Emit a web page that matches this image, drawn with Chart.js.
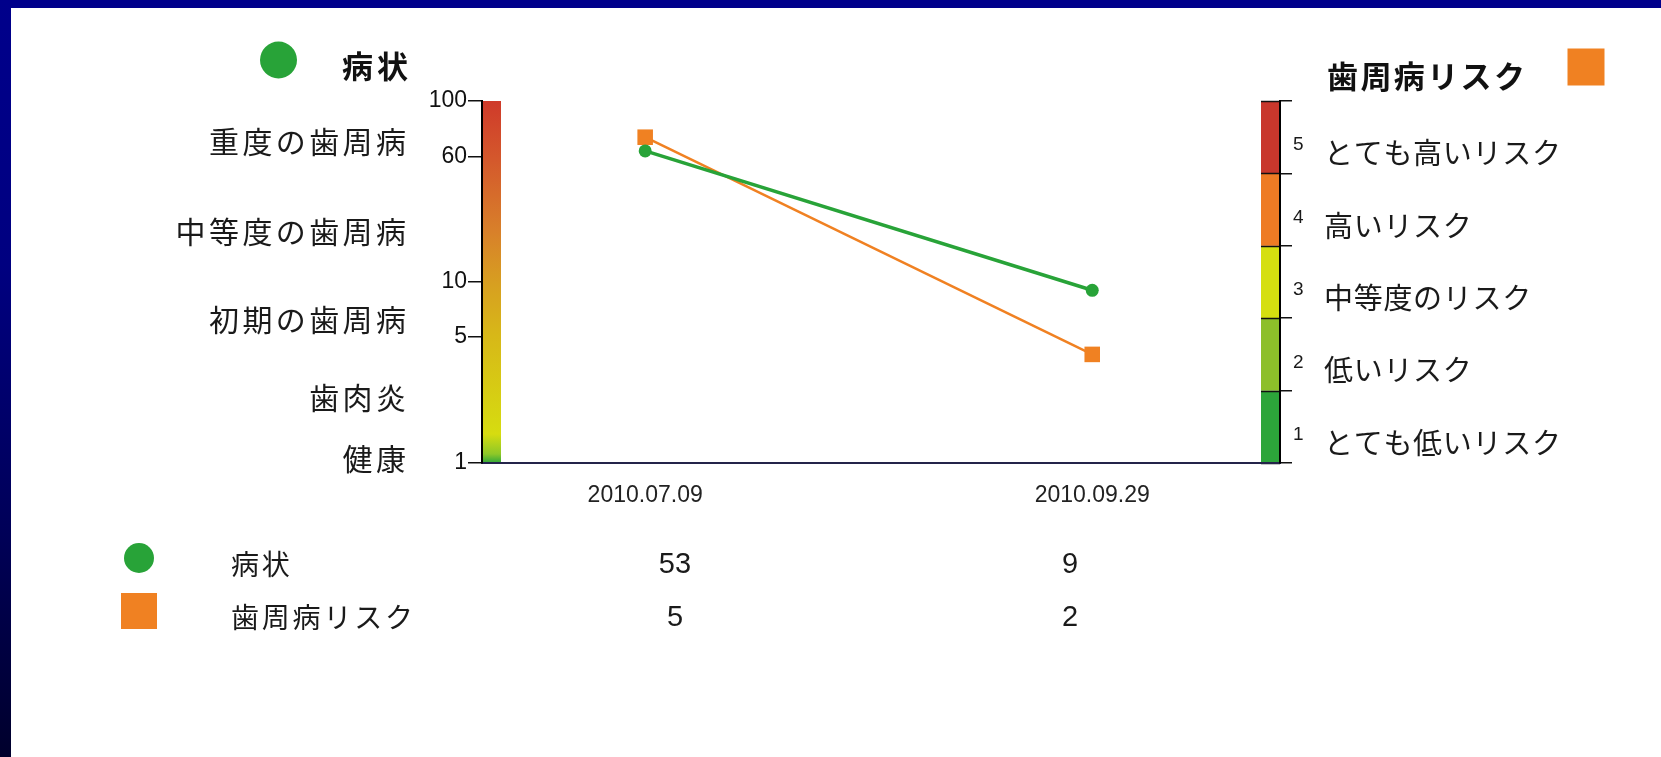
<!DOCTYPE html>
<html>
<head>
<meta charset="utf-8">
<script src="https://cdn.jsdelivr.net/npm/chart.js@4.4.1/dist/chart.umd.min.js"></script>
<style>
  html, body { margin: 0; padding: 0; background: #fff; overflow: hidden; }
  #wrap { position: relative; width: 1661px; height: 757px; }
  #wrap canvas { position: absolute; left: 0; top: 0; }
  #frameTop { position: absolute; left: 0; top: 0; width: 1661px; height: 8px; background: #00008b; }
  #frameLeft { position: absolute; left: 0; top: 0; width: 11px; height: 757px;
    background: linear-gradient(#00008b 0%, #000080 35%, #000058 70%, #00002c 100%); }
</style>
</head>
<body>
<div id="wrap">
  <canvas id="chart" width="1661" height="757"></canvas>
  <div id="frameTop"></div>
  <div id="frameLeft"></div>
</div>
<script>
// ---- data ----
const dates = ['2010.07.09', '2010.09.29'];
const seriesNames = ['病状', '歯周病リスク'];
const conditionValues = [53, 9];
const riskValues = [5, 2];

// left (condition) axis: tick positions and the labels printed beside them
const conditionTickValues = [1, 5, 10, 49, 100];
const conditionTickLabels = ['1', '5', '10', '60', '100'];

// condition stages written to the left of the axis, at their level on the log axis
const stageNames = ['重度の歯周病', '中等度の歯周病', '初期の歯周病', '歯肉炎', '健康'];
const stageLevels = [60, 19, 6.2, 2.3, 1.06];

// risk axis levels and names
const riskLevels = [1, 2, 3, 4, 5];
const riskNames = ['とても低いリスク', '低いリスク', '中等度のリスク', '高いリスク', 'とても高いリスク'];

// ---- styles ----
const GREEN = '#28a338';
const ORANGE = '#f08122';
const riskColors = ['#2ca53a', '#8dbf2a', '#d5df10', '#ee7b24', '#c8372c'];
const conditionGradient = [
  [0.00, '#30a83a'], [0.025, '#8ec828'], [0.08, '#d6dc10'], [0.35, '#d7b818'],
  [0.49, '#d7a020'], [0.64, '#d8802a'], [0.84, '#d4582c'], [1.00, '#cf3a2a']
];
const CJK = '"Noto Sans CJK JP", "Noto Sans", sans-serif';
const NUM = '"Liberation Sans", Arial, sans-serif';
const BAR_W = 19;

function spacedText(ctx, text, x, y, align, spacing) {
  ctx.save();
  ctx.letterSpacing = '0px';
  const n = [...text].length;
  const w = ctx.measureText(text).width + spacing * (n - 1);
  const left = align === 'right' ? x - w : align === 'center' ? x - w / 2 : x;
  ctx.letterSpacing = spacing + 'px';
  ctx.textAlign = 'left';
  ctx.fillText(text, left, y);
  ctx.restore();
}

function marker(ctx, style, x, y, size, color) {
  ctx.save();
  ctx.fillStyle = color;
  if (style === 'circle') {
    ctx.beginPath();
    ctx.arc(x, y, size / 2, 0, Math.PI * 2);
    ctx.fill();
  } else {
    ctx.fillRect(x - size / 2, y - size / 2, size, size);
  }
  ctx.restore();
}

const scaleDecor = {
  id: 'scaleDecor',
  beforeDraw(chart) {
    const { ctx, chartArea: a, scales } = chart;
    ctx.save();
    // colour bar along the condition axis
    const g = ctx.createLinearGradient(0, a.bottom, 0, a.top);
    conditionGradient.forEach(([p, c]) => g.addColorStop(p, c));
    ctx.fillStyle = g;
    ctx.fillRect(a.left, a.top, BAR_W, a.bottom - a.top);

    // banded bar along the risk axis
    const r = scales.risk;
    riskLevels.forEach((lv, i) => {
      const yTop = r.getPixelForValue(lv + 0.5);
      const yBot = r.getPixelForValue(lv - 0.5);
      ctx.fillStyle = riskColors[i];
      ctx.fillRect(a.right - BAR_W, yTop, BAR_W, yBot - yTop);
    });
    ctx.strokeStyle = '#111';
    ctx.lineWidth = 1.5;
    riskLevels.concat([0]).forEach(lv => {
      const y = Math.round(r.getPixelForValue(lv + 0.5)) + 0.5;
      ctx.beginPath();
      ctx.moveTo(a.right - BAR_W, y);
      ctx.lineTo(a.right, y);
      ctx.stroke();
    });
    ctx.restore();
  },
  afterDraw(chart) {
    const { ctx, chartArea: a, scales } = chart;
    const yL = scales.y, yR = scales.risk;
    ctx.save();
    ctx.fillStyle = '#1a1a1a';
    ctx.textBaseline = 'middle';

    // stage names to the left of the condition axis
    ctx.font = `30px ${CJK}`;
    stageNames.forEach((name, i) => {
      spacedText(ctx, name, 406, yL.getPixelForValue(stageLevels[i]), 'right', 3.4);
    });

    // risk level numbers and names
    riskLevels.forEach((lv, i) => {
      const yc = yR.getPixelForValue(lv);
      ctx.font = `19px ${NUM}`;
      ctx.textAlign = 'left';
      ctx.fillText(String(lv), a.right + 13, yc + 8);
      ctx.font = `29px ${CJK}`;
      spacedText(ctx, riskNames[i], a.right + 44, yc + 16, 'left', 0.7);
    });

    // axis headings with their series markers
    ctx.fillStyle = '#111';
    ctx.font = `bold 31px ${CJK}`;
    marker(ctx, 'circle', 278.5, 60, 37, GREEN);
    spacedText(ctx, seriesNames[0], 408, 66, 'right', 4);
    spacedText(ctx, seriesNames[1], 1327, 76, 'left', 2.4);
    marker(ctx, 'rect', 1586, 67, 37, ORANGE);

    // value table under the chart
    const rows = [
      { name: seriesNames[0], values: conditionValues, style: 'circle', color: GREEN, size: 30 },
      { name: seriesNames[1], values: riskValues, style: 'rect', color: ORANGE, size: 36 }
    ];
    const rowY = [561, 614];
    const colX = [675, 1070];
    rows.forEach((row, i) => {
      marker(ctx, row.style, 139, rowY[i] - 3, row.size, row.color);
      ctx.fillStyle = '#1a1a1a';
      ctx.font = `28px ${CJK}`;
      spacedText(ctx, row.name, 231, rowY[i] + 3, 'left', 2.8);
      ctx.font = `29px ${NUM}`;
      row.values.forEach((v, j) => {
        ctx.textAlign = 'center';
        ctx.fillText(String(v), colX[j], rowY[i] + 4);
      });
    });
    ctx.restore();
  }
};

const ctx = document.getElementById('chart').getContext('2d');
new Chart(ctx, {
  type: 'line',
  data: {
    datasets: [
      {
        label: seriesNames[0],
        data: conditionValues.map((v, i) => ({ x: i, y: v })),
        yAxisID: 'y',
        borderColor: GREEN,
        backgroundColor: GREEN,
        borderWidth: 3.5,
        pointStyle: 'circle',
        pointRadius: 6.5,
        pointBorderWidth: 0,
        tension: 0
      },
      {
        label: seriesNames[1],
        data: riskValues.map((v, i) => ({ x: i, y: v })),
        yAxisID: 'risk',
        borderColor: ORANGE,
        backgroundColor: ORANGE,
        borderWidth: 2.5,
        pointStyle: 'rect',
        pointRadius: 11,
        pointBorderWidth: 0,
        tension: 0
      }
    ]
  },
  options: {
    responsive: false,
    animation: false,
    events: [],
    layout: { padding: { top: 101, left: 0, right: 0, bottom: 0 } },
    plugins: { legend: { display: false }, tooltip: { enabled: false } },
    scales: {
      x: {
        type: 'linear',
        min: -0.365,
        max: 1.42,
        afterFit: s => { s.height = 294; },
        afterBuildTicks: s => { s.ticks = dates.map((d, i) => ({ value: i })); },
        ticks: {
          autoSkip: false,
          maxRotation: 0,
          callback: v => dates[v],
          font: { family: NUM, size: 23 },
          color: '#222',
          padding: 11
        },
        grid: { display: false },
        border: { display: true, color: '#24244a', width: 2 }
      },
      y: {
        type: 'logarithmic',
        position: 'left',
        min: 1,
        max: 100,
        afterFit: s => { s.width = 482; },
        afterBuildTicks: s => { s.ticks = conditionTickValues.map(v => ({ value: v })); },
        ticks: {
          autoSkip: false,
          callback: (v, i) => conditionTickLabels[i],
          font: { family: NUM, size: 23 },
          color: '#111',
          padding: 1
        },
        grid: { drawOnChartArea: false, tickLength: 14, color: '#111', lineWidth: 1.5 },
        border: { color: '#000', width: 2 }
      },
      risk: {
        type: 'linear',
        position: 'right',
        min: 0.5,
        max: 5.5,
        afterFit: s => { s.width = 381; },
        afterBuildTicks: s => {
          s.ticks = riskLevels.map(v => ({ value: v - 0.5 })).concat([{ value: riskLevels[riskLevels.length - 1] + 0.5 }]);
        },
        ticks: { display: false },
        grid: { drawOnChartArea: false, tickLength: 12, color: '#111', lineWidth: 1.5 },
        border: { color: '#000', width: 2 }
      }
    }
  },
  plugins: [scaleDecor]
});
</script>
</body>
</html>
